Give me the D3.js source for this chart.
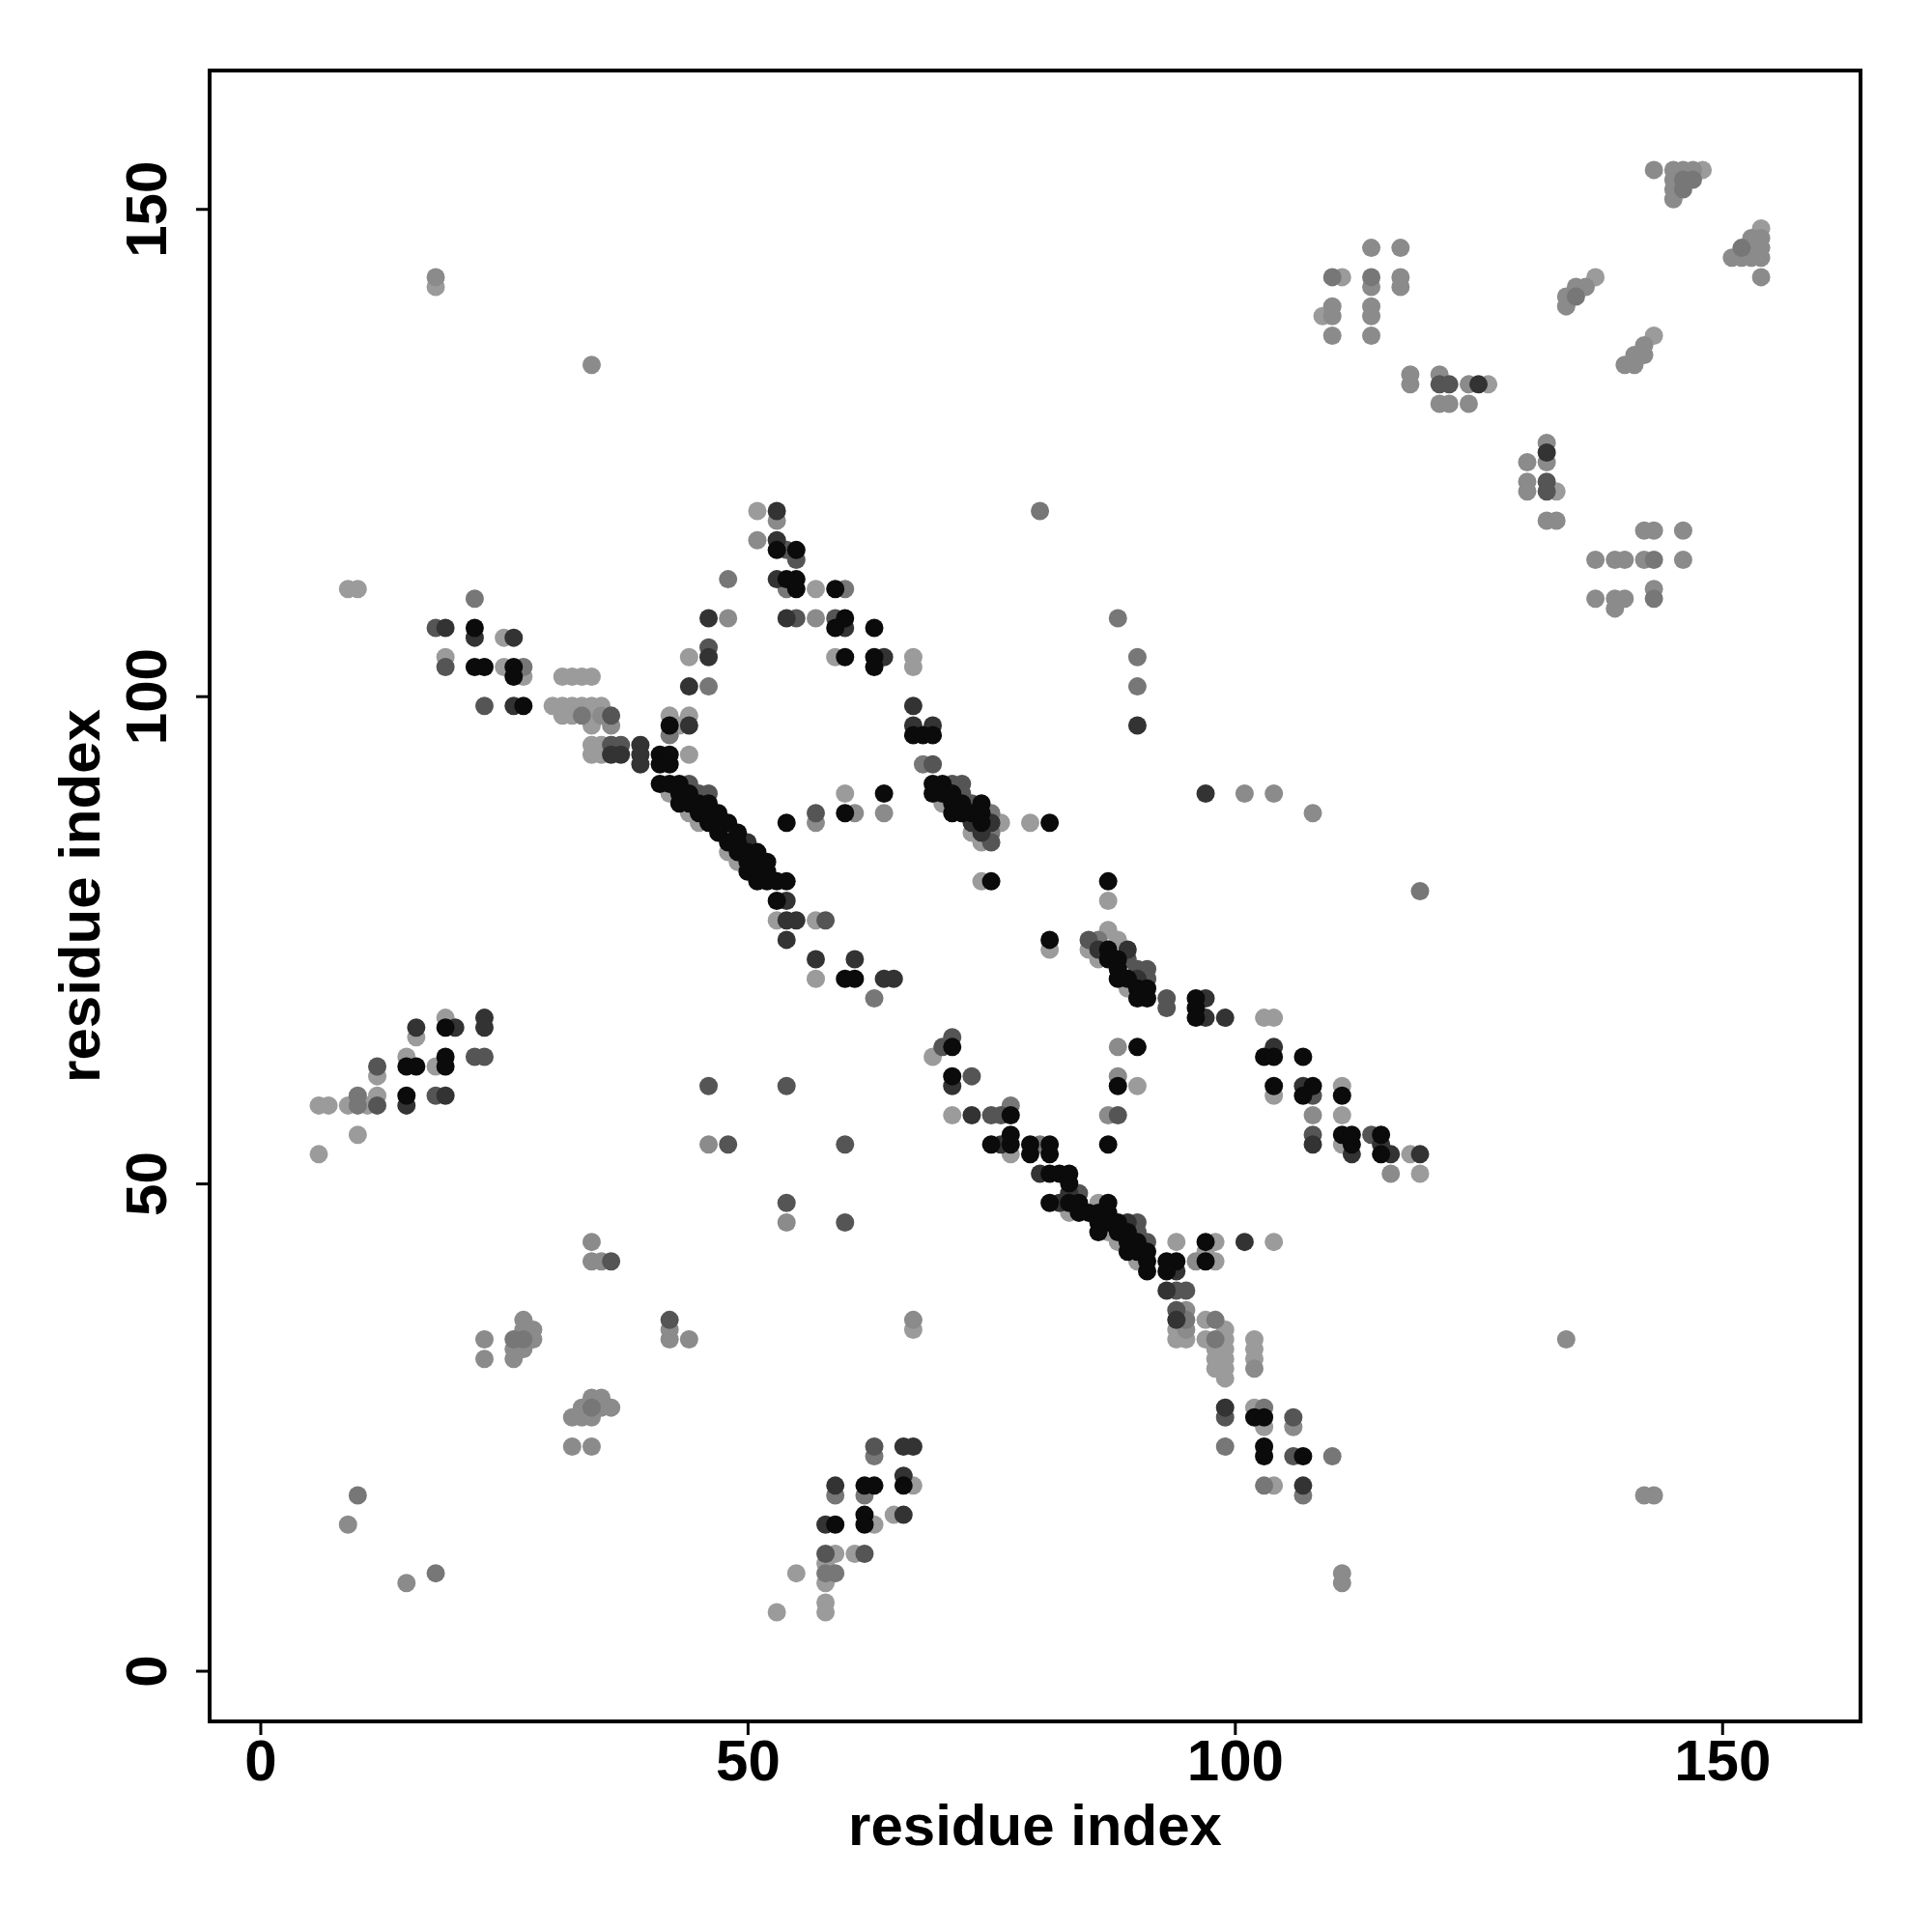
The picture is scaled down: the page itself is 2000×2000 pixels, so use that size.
<!DOCTYPE html>
<html><head><meta charset="utf-8">
<script src="https://cdn.jsdelivr.net/npm/d3@7"></script>
<style>body{margin:0;background:#fff}</style>
</head><body>
<svg id="chart" width="2000" height="2000"></svg>
<script>
// shade index -> grey level
const shadePalette = ["#0b0b0b", "#333333", "#555555", "#777777", "#8b8b8b", "#9b9b9b"];

// contacts: [residue i (x), residue j (y), shade index]
const topRight = [
[143,154,4],[145,154,4],[146,154,4],[147,154,4],[148,154,5],
[145,153,4],[146,153,3],[147,153,3],[145,152,4],[146,152,3],[145,151,4],
[151,145,4],[152,145,4],[153,145,4],[154,145,4],[152,146,3],[153,146,4],[154,146,4],
[153,147,4],[154,147,4],[154,148,5],[154,143,4],
[114,146,4],[117,146,4],[110,143,3],[111,143,5],[114,143,3],[117,143,4],
[114,142,4],[117,142,4],[110,140,4],[114,140,4],[109,139,5],[110,139,4],[114,139,4],
[110,137,4],[114,137,4],
[118,133,4],[118,132,4],[121,133,4],[121,132,2],[122,132,2],[124,132,4],[125,132,1],[126,132,5],
[121,130,4],[122,130,4],[124,130,4],
[132,126,4],[132,125,1],[130,124,4],[132,124,4],[130,122,4],[132,122,2],
[130,121,4],[132,121,2],[133,121,5],[132,118,4],[133,118,4],
[134,140,4],[134,141,4],[135,141,3],[135,142,4],[136,142,4],[137,143,5],
[140,134,4],[141,134,4],[141,135,4],[142,135,4],[142,136,4],[143,137,5],
[142,117,4],[143,117,4],[146,117,4],
[137,114,4],[139,114,4],[140,114,4],[142,114,4],[143,114,3],[146,114,4],
[137,110,4],[139,110,4],[140,110,4],[143,111,4],[143,110,3],[139,109,4]
];

const upperLeft = [
[18,143,4],[18,142,5],[34,134,4],[9,111,5],[10,111,5],[22,110,3],
[18,107,2],[19,107,1],[22,107,0],[22,106,1],[25,106,5],[26,106,1],
[19,104,5],[19,103,2],[22,103,0],[23,103,0],[25,103,5],[26,103,0],[26,102,0],
[27,103,3],[27,102,5],[23,99,2],[26,99,1],[27,99,0],
[31,102,5],[32,102,5],[33,102,5],[34,102,5],
[30,99,5],[31,99,5],[32,99,5],[33,99,5],[34,99,5],[35,99,5],
[31,98,5],[32,98,5],[33,98,3],[34,98,5],[35,98,4],[36,98,2],
[34,97,5],[36,97,4],
[34,95,5],[35,95,5],[36,95,2],[37,95,2],[34,94,5],[35,94,5],[36,94,1],[37,94,1],
[42,98,5],[44,98,5],[42,97,0],[44,97,1],[43,97,5],[42,96,3],[44,94,5],
[44,101,1],[46,101,3],[44,104,5],[46,105,2],[46,104,1],[46,108,1],[48,108,4],
[48,112,3],[51,116,4],[51,119,5]
];

const band1 = [
[39,95,1],[39,94,1],[39,93,1],[41,94,0],[42,94,0],[41,93,0],[42,93,0],
[41,91,0],[42,91,0],[43,91,0],[44,91,2],
[42,90,5],[43,90,0],[44,90,0],[45,90,2],[46,90,2],
[43,89,0],[44,89,0],[45,89,0],[46,89,0],
[44,88,5],[45,88,0],[46,88,0],[47,88,0],
[45,87,5],[46,87,0],[47,87,0],[48,87,0],
[47,86,0],[48,86,3],[49,86,0],
[48,85,0],[49,85,0],[50,85,1],
[48,84,5],[49,84,0],[50,84,0],[51,84,0],
[49,83,5],[50,83,0],[51,83,0],[52,83,0],
[50,82,0],[51,82,0],[52,82,0],
[51,81,0],[52,81,0],[53,81,0],[54,81,0],
[53,79,0],[54,79,1],
[53,77,5],[54,77,1],[55,77,1],[54,75,1],[57,77,5],[58,77,2],
[57,73,1],[61,73,1],[57,71,5],[60,71,0],[61,71,0],[63,69,3],[64,71,1],[65,71,1]
];

const band2 = [
[53,119,1],[53,118,4],[53,116,1],[53,115,0],[54,115,2],[55,115,0],[55,114,2],
[53,112,1],[54,112,0],[55,112,0],[54,111,3],[55,111,0],[57,111,5],[59,111,0],[60,111,3],
[54,108,1],[55,108,2],[57,108,4],[59,108,2],[60,108,0],[59,107,0],[60,107,1],[63,107,0],
[59,104,5],[60,104,0],[63,104,0],[64,104,1],[67,104,5],[63,103,0],[67,103,5],
[67,99,1],[67,97,1],[69,97,1],[67,96,0],[68,96,0],[69,96,0],
[68,93,3],[69,93,2],
[69,91,0],[70,91,0],[71,91,2],[72,91,2],
[69,90,0],[70,90,0],[71,90,0],[72,90,2],
[70,89,5],[71,89,0],[72,89,0],[73,89,2],[74,89,0],
[71,88,0],[72,88,0],[73,88,0],[74,88,0],[75,88,3],
[73,87,1],[74,87,0],[75,87,1],[76,87,5],
[73,86,5],[74,86,1],[75,86,3],[74,85,5],[75,85,2],
[79,87,5],[81,87,0],
[60,90,5],[64,90,0],[57,88,2],[57,87,4],[60,88,0],[61,88,4],[64,88,4],[54,87,0],
[74,81,5],[75,81,0],[80,119,3]
];

const band3 = [
[97,90,1],[101,90,4],[104,90,4],[108,88,4],
[88,108,3],[90,104,3],[90,101,3],[90,97,1],
[87,81,0],[87,79,5],[119,80,3],[81,75,0],[81,74,5],
[87,76,5],[85,75,2],[86,75,3],[88,75,5],
[85,74,5],[86,74,1],[87,74,0],[89,74,1],
[86,73,5],[87,73,0],[88,73,0],[89,73,2],
[88,72,0],[90,72,2],[91,72,2],
[88,71,0],[89,71,0],[90,71,1],[91,71,2],
[89,70,5],[90,70,0],[91,70,0],[90,69,0],[91,69,0],
[93,69,2],[93,68,2],
[96,69,0],[97,69,1],[96,68,0],[96,67,0],[97,67,1],[99,67,1],
[103,67,5],[104,67,5],
[88,64,4],[90,64,0],[88,61,4],[88,60,0],[90,60,5],[87,57,4],[88,57,2],[87,54,0],
[104,64,1],[103,63,0],[104,63,0],[107,63,0],
[104,60,0],[107,60,1],[108,60,0],[111,60,5],
[104,59,5],[107,59,0],[108,59,2],[111,59,0],
[108,57,4],[111,57,5],
[108,55,2],[111,55,0],[112,55,0],[114,55,2],[115,55,0],
[108,54,1],[111,54,5],[112,54,0],[115,54,1],
[112,53,1],[115,53,0],[116,53,1],[118,53,5],[119,53,1],
[116,51,4],[119,51,5]
];

const band4 = [
[71,65,2],[70,64,2],[71,64,0],[69,63,5],
[71,61,0],[71,60,1],[73,61,2],
[71,57,5],[73,57,1],[75,57,2],[76,57,2],[77,57,0],[77,58,3],
[75,54,0],[76,54,1],[77,54,0],[77,55,0],[77,53,5],[79,54,0],[80,54,3],[81,54,0],[79,53,0],[81,53,0],
[80,51,1],[81,51,0],[82,51,0],[83,51,0],[83,50,0],[83,49,1],[84,49,2],
[81,48,0],[82,48,1],[83,48,0],[84,48,0],[86,48,5],[87,48,0],
[83,47,5],[84,47,0],[85,47,0],[86,47,0],[87,47,0],
[86,46,0],[87,46,0],[88,46,0],[89,46,1],[90,46,2],
[86,45,0],[87,45,5],[88,45,0],[89,45,0],[90,45,2],
[88,44,5],[89,44,0],[90,44,0],[91,44,2],
[89,43,0],[90,43,0],[91,43,0],[90,42,5],[91,42,0],
[94,44,5],[97,44,0],[98,44,5],[101,44,1],[104,44,5],
[93,42,0],[94,42,0],[96,42,4],[97,42,0],[98,42,5],[97,43,5],
[91,41,0],[93,41,0],[94,41,1],
[93,39,1],[94,39,2],[95,39,2],
[94,37,2],[95,37,4],[94,36,1],[95,36,3],[94,35,5],[95,35,4],[94,34,5],[95,34,5],
[97,36,5],[98,36,3],[99,35,5],[97,34,5],[98,34,3],[98,33,5],[98,32,5],
[99,34,5],[99,33,5],[99,32,5],[99,31,5],[98,31,5],[99,30,5],
[102,34,5],[102,33,5],[102,32,5],[102,31,4],
[99,27,1],[102,27,5],[103,27,3],[106,26,2],
[99,26,2],[102,26,0],[103,26,0],[103,25,5],[106,25,4],
[99,23,3],[103,23,0],[103,22,0],[106,22,2],[107,22,0],[110,22,3],
[103,19,3],[104,19,5],[107,19,1],[107,18,3]
];

const lowerLeft = [
[16,66,1],[19,66,0],[20,66,1],[23,66,1],[19,67,5],[23,67,1],[16,65,5],
[15,63,5],[19,63,0],[22,63,2],[23,63,2],
[12,62,2],[15,62,0],[16,62,0],[18,62,5],[19,62,0],[12,61,5],
[10,59,3],[12,59,5],[15,59,0],[18,59,2],[19,59,1],
[6,58,5],[7,58,5],[9,58,5],[10,58,3],[11,58,5],[12,58,2],[15,58,1],
[10,55,5],[6,53,5],
[34,44,4],[34,42,4],[35,42,4],[36,42,2],
[27,36,4],[28,35,4],[27,35,4],[28,34,4],[27,34,3],[26,34,3],[26,33,4],[27,33,4],[26,32,4],
[23,34,4],[23,32,4],
[34,28,4],[35,28,4],[33,27,4],[34,27,3],[35,27,4],[36,27,4],[32,26,4],[33,26,4],[34,26,4],
[32,23,4],[34,23,4],
[10,18,3],[9,15,4],[18,10,3],[15,9,4]
];

const lowerMid = [
[46,60,2],[54,60,2],[46,54,4],[48,54,2],[60,54,2],
[54,48,2],[54,46,4],[60,46,2],
[42,36,2],[42,35,4],[42,34,4],[44,34,4],[67,36,4],[67,35,5],
[63,23,2],[63,22,3],[66,23,1],[67,23,1],
[59,19,1],[59,18,3],[62,19,0],[63,19,0],[62,18,3],[66,20,1],[66,19,0],[67,19,5],
[58,15,1],[59,15,0],[62,16,0],[62,15,0],[63,15,5],[65,16,5],[66,16,1],
[58,12,2],[59,12,5],[61,12,5],[62,12,2],
[55,10,5],[58,11,5],[58,10,3],[59,10,3],[58,9,5],
[53,6,5],[58,7,5],[58,6,5],
[134,34,4],[142,18,4],[143,18,4],[111,10,4],[111,9,4]
];

const xTicks = [0, 50, 100, 150];
const yTicks = [0, 50, 100, 150];
const axisTitleX = "residue index";
const axisTitleY = "residue index";

const svg = d3.select("#chart");
const box = {left: 217, right: 1926, top: 73, bottom: 1782};
const x = d3.scaleLinear().domain([-5.2, 164.2]).range([box.left, box.right]);
const y = d3.scaleLinear().domain([-5.2, 164.2]).range([box.bottom, box.top]);
const font = "'Liberation Sans', Arial, Helvetica, sans-serif";

const all = [].concat(topRight, upperLeft, band1, band2, band3, band4, lowerLeft, lowerMid)
  .map(d => ({i: d[0], j: d[1], s: d[2]}))
  .sort((a, b) => b.s - a.s);

svg.append("g").selectAll("circle").data(all).join("circle")
  .attr("cx", d => x(d.i)).attr("cy", d => y(d.j)).attr("r", 9.5)
  .attr("fill", d => shadePalette[d.s]);

svg.append("rect")
  .attr("x", box.left).attr("y", box.top)
  .attr("width", box.right - box.left).attr("height", box.bottom - box.top)
  .attr("fill", "none").attr("stroke", "#000").attr("stroke-width", 4);

const gx = svg.append("g").attr("transform", `translate(0,${box.bottom})`)
  .call(d3.axisBottom(x).tickValues(xTicks).tickSize(14).tickFormat(d3.format("d")));
gx.select(".domain").remove();
gx.selectAll(".tick line").attr("stroke", "#000").attr("stroke-width", 3);
gx.selectAll(".tick text").attr("y", 61).attr("dy", 0)
  .attr("font-family", font).attr("font-size", 60).attr("font-weight", "bold").attr("fill", "#000");

const gy = svg.append("g").attr("transform", `translate(${box.left},0)`)
  .call(d3.axisLeft(y).tickValues(yTicks).tickSize(14).tickFormat(d3.format("d")));
gy.select(".domain").remove();
gy.selectAll(".tick line").attr("stroke", "#000").attr("stroke-width", 3);
gy.selectAll(".tick text").attr("x", 0).attr("dy", 0)
  .attr("transform", "translate(-45,0) rotate(-90)")
  .attr("text-anchor", "middle")
  .attr("font-family", font).attr("font-size", 60).attr("font-weight", "bold").attr("fill", "#000");

svg.append("text").attr("x", (box.left + box.right) / 2).attr("y", 1910)
  .attr("text-anchor", "middle").attr("font-family", font).attr("font-size", 60)
  .attr("font-weight", "bold").text(axisTitleX);
svg.append("text").attr("transform", `translate(103,${(box.top + box.bottom) / 2}) rotate(-90)`)
  .attr("text-anchor", "middle").attr("font-family", font).attr("font-size", 60)
  .attr("font-weight", "bold").text(axisTitleY);
</script>
</body></html>
